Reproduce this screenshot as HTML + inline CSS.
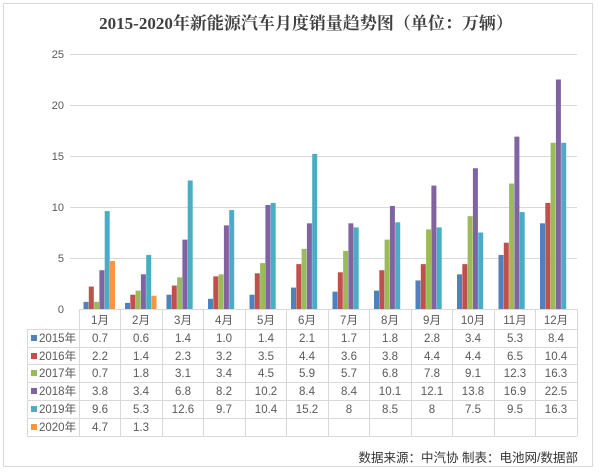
<!DOCTYPE html>
<html><head><meta charset="utf-8"><style>
html,body{margin:0;padding:0;background:#fff;}
svg{display:block;font-family:"Liberation Sans","Noto Sans CJK SC",sans-serif;}
</style></head><body>
<svg width="600" height="476" viewBox="0 0 600 476" xmlns="http://www.w3.org/2000/svg">
<rect x="3.5" y="3.5" width="589" height="463" fill="#fff" stroke="#d9d9d9"/>
<text x="306" y="29" text-anchor="middle" font-size="17" font-weight="bold" fill="#404040" font-family="Liberation Serif,Noto Serif CJK SC,serif">2015-2020年新能源汽车月度销量趋势图（单位：万辆）</text>
<g stroke="#d9d9d9" stroke-width="1">
<line x1="70" y1="54.5" x2="577" y2="54.5"/>
<line x1="70" y1="105.5" x2="577" y2="105.5"/>
<line x1="70" y1="156.5" x2="577" y2="156.5"/>
<line x1="70" y1="207.5" x2="577" y2="207.5"/>
<line x1="70" y1="258.5" x2="577" y2="258.5"/>
</g>
<g font-size="11" fill="#595959" text-anchor="end">
<text x="64" y="58">25</text><text x="64" y="109">20</text><text x="64" y="160">15</text><text x="64" y="211">10</text><text x="64" y="262">5</text><text x="64" y="313">0</text>
</g>
<defs>
<g id="dummy"></g>
</defs>
<!-- bars: each group translate to group x, baseline 309, scale 10.2 px/unit -->
<g transform="translate(79,309) scale(1,-10.2)">
<rect x="4.5" width="5" height="0.7" fill="#4f81bd"/><rect x="9.8" width="5" height="2.2" fill="#c0504d"/><rect x="15.1" width="5" height="0.7" fill="#9bbb59"/><rect x="20.4" width="5" height="3.8" fill="#8064a2"/><rect x="25.7" width="5" height="9.6" fill="#4bacc6"/><rect x="31" width="5" height="4.7" fill="#f79646"/></g>
<g transform="translate(120.5,309) scale(1,-10.2)">
<rect x="4.5" width="5" height="0.6" fill="#4f81bd"/><rect x="9.8" width="5" height="1.4" fill="#c0504d"/><rect x="15.1" width="5" height="1.8" fill="#9bbb59"/><rect x="20.4" width="5" height="3.4" fill="#8064a2"/><rect x="25.7" width="5" height="5.3" fill="#4bacc6"/><rect x="31" width="5" height="1.3" fill="#f79646"/></g>
<g transform="translate(162,309) scale(1,-10.2)">
<rect x="4.5" width="5" height="1.4" fill="#4f81bd"/><rect x="9.8" width="5" height="2.3" fill="#c0504d"/><rect x="15.1" width="5" height="3.1" fill="#9bbb59"/><rect x="20.4" width="5" height="6.8" fill="#8064a2"/><rect x="25.7" width="5" height="12.6" fill="#4bacc6"/></g>
<g transform="translate(203.5,309) scale(1,-10.2)">
<rect x="4.5" width="5" height="1.0" fill="#4f81bd"/><rect x="9.8" width="5" height="3.2" fill="#c0504d"/><rect x="15.1" width="5" height="3.4" fill="#9bbb59"/><rect x="20.4" width="5" height="8.2" fill="#8064a2"/><rect x="25.7" width="5" height="9.7" fill="#4bacc6"/></g>
<g transform="translate(245,309) scale(1,-10.2)">
<rect x="4.5" width="5" height="1.4" fill="#4f81bd"/><rect x="9.8" width="5" height="3.5" fill="#c0504d"/><rect x="15.1" width="5" height="4.5" fill="#9bbb59"/><rect x="20.4" width="5" height="10.2" fill="#8064a2"/><rect x="25.7" width="5" height="10.4" fill="#4bacc6"/></g>
<g transform="translate(286.5,309) scale(1,-10.2)">
<rect x="4.5" width="5" height="2.1" fill="#4f81bd"/><rect x="9.8" width="5" height="4.4" fill="#c0504d"/><rect x="15.1" width="5" height="5.9" fill="#9bbb59"/><rect x="20.4" width="5" height="8.4" fill="#8064a2"/><rect x="25.7" width="5" height="15.2" fill="#4bacc6"/></g>
<g transform="translate(328,309) scale(1,-10.2)">
<rect x="4.5" width="5" height="1.7" fill="#4f81bd"/><rect x="9.8" width="5" height="3.6" fill="#c0504d"/><rect x="15.1" width="5" height="5.7" fill="#9bbb59"/><rect x="20.4" width="5" height="8.4" fill="#8064a2"/><rect x="25.7" width="5" height="8" fill="#4bacc6"/></g>
<g transform="translate(369.5,309) scale(1,-10.2)">
<rect x="4.5" width="5" height="1.8" fill="#4f81bd"/><rect x="9.8" width="5" height="3.8" fill="#c0504d"/><rect x="15.1" width="5" height="6.8" fill="#9bbb59"/><rect x="20.4" width="5" height="10.1" fill="#8064a2"/><rect x="25.7" width="5" height="8.5" fill="#4bacc6"/></g>
<g transform="translate(411,309) scale(1,-10.2)">
<rect x="4.5" width="5" height="2.8" fill="#4f81bd"/><rect x="9.8" width="5" height="4.4" fill="#c0504d"/><rect x="15.1" width="5" height="7.8" fill="#9bbb59"/><rect x="20.4" width="5" height="12.1" fill="#8064a2"/><rect x="25.7" width="5" height="8" fill="#4bacc6"/></g>
<g transform="translate(452.5,309) scale(1,-10.2)">
<rect x="4.5" width="5" height="3.4" fill="#4f81bd"/><rect x="9.8" width="5" height="4.4" fill="#c0504d"/><rect x="15.1" width="5" height="9.1" fill="#9bbb59"/><rect x="20.4" width="5" height="13.8" fill="#8064a2"/><rect x="25.7" width="5" height="7.5" fill="#4bacc6"/></g>
<g transform="translate(494,309) scale(1,-10.2)">
<rect x="4.5" width="5" height="5.3" fill="#4f81bd"/><rect x="9.8" width="5" height="6.5" fill="#c0504d"/><rect x="15.1" width="5" height="12.3" fill="#9bbb59"/><rect x="20.4" width="5" height="16.9" fill="#8064a2"/><rect x="25.7" width="5" height="9.5" fill="#4bacc6"/></g>
<g transform="translate(535.5,309) scale(1,-10.2)">
<rect x="4.5" width="5" height="8.4" fill="#4f81bd"/><rect x="9.8" width="5" height="10.4" fill="#c0504d"/><rect x="15.1" width="5" height="16.3" fill="#9bbb59"/><rect x="20.4" width="5" height="22.5" fill="#8064a2"/><rect x="25.7" width="5" height="16.3" fill="#4bacc6"/></g>
<!-- table -->
<g stroke="#d9d9d9" stroke-width="1">
<line x1="79" y1="309.5" x2="577" y2="309.5"/>
<line x1="27" y1="329.5" x2="577" y2="329.5"/>
<line x1="27" y1="347.5" x2="577" y2="347.5"/>
<line x1="27" y1="364.5" x2="577" y2="364.5"/>
<line x1="27" y1="382.5" x2="577" y2="382.5"/>
<line x1="27" y1="400.5" x2="577" y2="400.5"/>
<line x1="27" y1="418.5" x2="577" y2="418.5"/>
<line x1="27" y1="436.5" x2="577" y2="436.5"/>
<line x1="27.5" y1="329" x2="27.5" y2="436"/>
<line x1="79.5" y1="309" x2="79.5" y2="436"/>
<line x1="120.5" y1="309" x2="120.5" y2="436"/>
<line x1="162.5" y1="309" x2="162.5" y2="436"/>
<line x1="203.5" y1="309" x2="203.5" y2="436"/>
<line x1="245.5" y1="309" x2="245.5" y2="436"/>
<line x1="286.5" y1="309" x2="286.5" y2="436"/>
<line x1="328.5" y1="309" x2="328.5" y2="436"/>
<line x1="369.5" y1="309" x2="369.5" y2="436"/>
<line x1="411.5" y1="309" x2="411.5" y2="436"/>
<line x1="452.5" y1="309" x2="452.5" y2="436"/>
<line x1="494.5" y1="309" x2="494.5" y2="436"/>
<line x1="535.5" y1="309" x2="535.5" y2="436"/>
<line x1="577.5" y1="309" x2="577.5" y2="436"/>
</g>
<g fill="#4f81bd"><rect x="31" y="335" width="6" height="6"/></g>
<rect x="31" y="353" width="6" height="6" fill="#c0504d"/>
<rect x="31" y="370" width="6" height="6" fill="#9bbb59"/>
<rect x="31" y="388" width="6" height="6" fill="#8064a2"/>
<rect x="31" y="406" width="6" height="6" fill="#4bacc6"/>
<rect x="31" y="424" width="6" height="6" fill="#f79646"/>
<g font-size="11.5" fill="#595959">
<text x="39" y="342">2015年</text><text x="39" y="360">2016年</text><text x="39" y="377">2017年</text><text x="39" y="395">2018年</text><text x="39" y="413">2019年</text><text x="39" y="431">2020年</text>
</g>
<g font-size="11.5" fill="#595959" text-anchor="middle">
<text y="324"><tspan x="100">1月</tspan><tspan x="141">2月</tspan><tspan x="183">3月</tspan><tspan x="224">4月</tspan><tspan x="266">5月</tspan><tspan x="307">6月</tspan><tspan x="349">7月</tspan><tspan x="390">8月</tspan><tspan x="432">9月</tspan><tspan x="473">10月</tspan><tspan x="515">11月</tspan><tspan x="556">12月</tspan></text>
<text y="342"><tspan x="100">0.7</tspan><tspan x="141">0.6</tspan><tspan x="183">1.4</tspan><tspan x="224">1.0</tspan><tspan x="266">1.4</tspan><tspan x="307">2.1</tspan><tspan x="349">1.7</tspan><tspan x="390">1.8</tspan><tspan x="432">2.8</tspan><tspan x="473">3.4</tspan><tspan x="515">5.3</tspan><tspan x="556">8.4</tspan></text>
<text y="360"><tspan x="100">2.2</tspan><tspan x="141">1.4</tspan><tspan x="183">2.3</tspan><tspan x="224">3.2</tspan><tspan x="266">3.5</tspan><tspan x="307">4.4</tspan><tspan x="349">3.6</tspan><tspan x="390">3.8</tspan><tspan x="432">4.4</tspan><tspan x="473">4.4</tspan><tspan x="515">6.5</tspan><tspan x="556">10.4</tspan></text>
<text y="377"><tspan x="100">0.7</tspan><tspan x="141">1.8</tspan><tspan x="183">3.1</tspan><tspan x="224">3.4</tspan><tspan x="266">4.5</tspan><tspan x="307">5.9</tspan><tspan x="349">5.7</tspan><tspan x="390">6.8</tspan><tspan x="432">7.8</tspan><tspan x="473">9.1</tspan><tspan x="515">12.3</tspan><tspan x="556">16.3</tspan></text>
<text y="395"><tspan x="100">3.8</tspan><tspan x="141">3.4</tspan><tspan x="183">6.8</tspan><tspan x="224">8.2</tspan><tspan x="266">10.2</tspan><tspan x="307">8.4</tspan><tspan x="349">8.4</tspan><tspan x="390">10.1</tspan><tspan x="432">12.1</tspan><tspan x="473">13.8</tspan><tspan x="515">16.9</tspan><tspan x="556">22.5</tspan></text>
<text y="413"><tspan x="100">9.6</tspan><tspan x="141">5.3</tspan><tspan x="183">12.6</tspan><tspan x="224">9.7</tspan><tspan x="266">10.4</tspan><tspan x="307">15.2</tspan><tspan x="349">8</tspan><tspan x="390">8.5</tspan><tspan x="432">8</tspan><tspan x="473">7.5</tspan><tspan x="515">9.5</tspan><tspan x="556">16.3</tspan></text>
<text y="431"><tspan x="100">4.7</tspan><tspan x="141">1.3</tspan></text>
</g>
<text x="578" y="462" text-anchor="end" font-size="12.5" fill="#333">数据来源：中汽协  制表：电池网/数据部</text>
</svg>
</body></html>
